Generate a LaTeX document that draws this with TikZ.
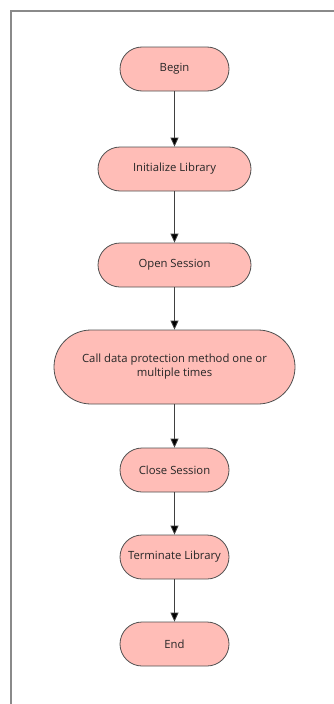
\documentclass[tikz,border=0pt]{standalone}
\usepackage{fontspec}
\setmainfont{Open Sans}
\usetikzlibrary{arrows.meta}
\definecolor{boxfill}{HTML}{FFBDB7}
\definecolor{boxline}{HTML}{505050}
\definecolor{flowline}{HTML}{404040}
\definecolor{framegray}{HTML}{8A8A8A}
\tikzset{
  term/.style={draw=boxline, fill=boxfill, line width=0.8pt, inner sep=0pt,
    minimum height=44pt, rounded corners=22pt, text=black!85,
    font=\fontsize{11.3}{14}\selectfont, align=center},
  flow/.style={draw=flowline, line width=0.8pt,
    -{Triangle[width=8pt,length=9pt,fill=black]}}
}
\begin{document}
\begin{tikzpicture}[x=1pt,y=-1pt]
  \useasboundingbox (0,0) rectangle (334,704);
  % page frame
  \draw[framegray, line width=1.3pt] (11,704) -- (11,11) -- (334,11);
  % process steps
  \node[term, minimum width=109pt] (begin) at (174.5,69) {Begin};
  \node[term, minimum width=153pt] (init)  at (174.5,169) {Initialize Library};
  \node[term, minimum width=153pt] (open)  at (174.5,265) {Open Session};
  \node[term, minimum width=241pt, minimum height=74pt, rounded corners=37pt] (call) at (174.5,367)
    {Call data protection method one or\\multiple times};
  \node[term, minimum width=109pt] (close) at (174.5,470) {Close Session};
  \node[term, minimum width=109pt] (term)  at (174.5,557) {Terminate Library};
  \node[term, minimum width=109pt] (end)   at (174.5,644) {End};
  % connectors
  \draw[flow] (begin) -- (init);
  \draw[flow] (init) -- (open);
  \draw[flow] (open) -- (call);
  \draw[flow] (call) -- (close);
  \draw[flow] (close) -- (term);
  \draw[flow] (term) -- (end);
\end{tikzpicture}
\end{document}
